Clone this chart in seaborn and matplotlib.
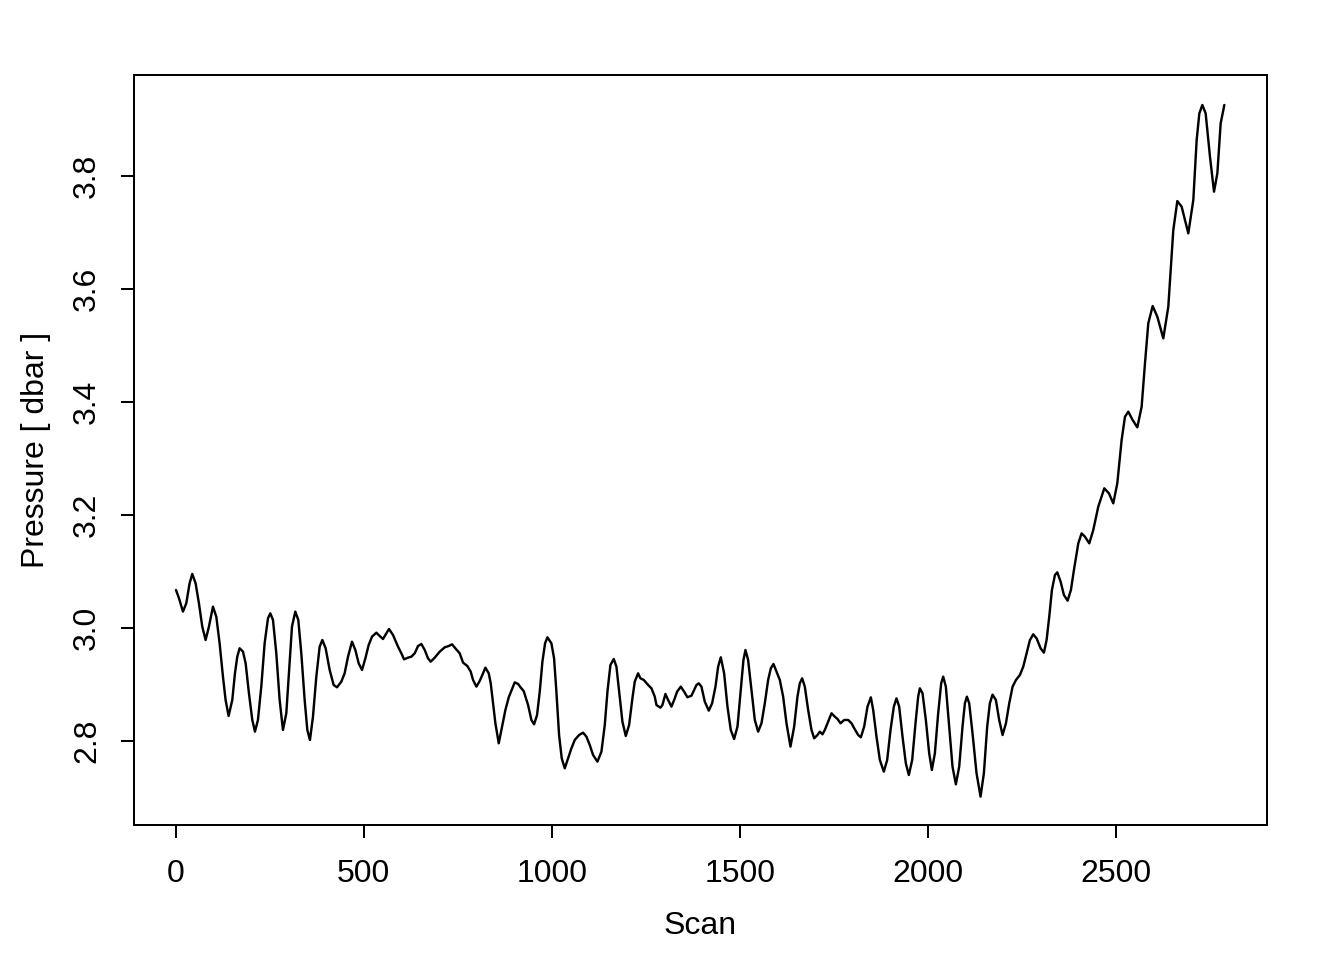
import matplotlib
matplotlib.use("Agg")
import matplotlib.pyplot as plt
import seaborn as sns
import pandas as pd

scan = [1, 9, 19.5, 28.4, 37.2, 44.3, 53.2, 62, 70.9, 79.8, 88.6, 99.3, 108.2, 117, 125.9,
        132.9, 140.9, 150.7, 157.8, 164, 170.2, 179.1, 186.2, 195, 203.9, 211, 218.9,
        227.8, 236.7, 245.6, 251.8, 258.9, 267.7, 276.6, 285.4, 294.3, 301.4, 309.4,
        318.2, 326.2, 334.2, 343.1, 350.2, 357.2, 365.2, 374.1, 383, 390.1, 398.9,
        409.6, 420.2, 429.1, 440.6, 449.4, 458.4, 469, 477.9, 486.7, 495.6, 504.5,
        513.3, 522.2, 533.7, 542.6, 551.4, 560.3, 567.4, 578, 591.3, 600.2, 607.3,
        617.9, 626.8, 635.7, 644.5, 653.4, 662.3, 671.1, 678.2, 688.9, 702.2, 715.5,
        726.1, 735, 743.8, 755.3, 764.2, 775.7, 784.6, 790.8, 799.7, 808.5, 817.4,
        823.6, 832.5, 837.8, 844, 850.2, 859.1, 867.9, 876.8, 885.7, 892.7, 901.6,
        910.5, 919.3, 925.5, 937.1, 945.9, 953, 961, 968.1, 975.2, 982.3, 988.5,
        999.1, 1006.2, 1012.4, 1019.5, 1026.6, 1034.6, 1043.4, 1052.3, 1061.2, 1072.7,
        1083.3, 1092.2, 1101.1, 1109.9, 1121.5, 1132.1, 1141, 1148.1, 1156, 1164.9,
        1172, 1179.1, 1187.9, 1196.8, 1205.7, 1214.5, 1220.7, 1229.6, 1235.8, 1244.7,
        1256.2, 1265.1, 1273.9, 1278.4, 1289, 1294.3, 1302.3, 1309.4, 1318.3, 1327.1,
        1333.3, 1343.1, 1352, 1360.8, 1371.5, 1384.8, 1390.9, 1398, 1406.9, 1417.5,
        1426.4, 1435.3, 1442.4, 1449.5, 1458.3, 1467.2, 1476, 1484.9, 1493.8, 1502.6,
        1509.7, 1515, 1522.1, 1531, 1539.9, 1548.7, 1557.6, 1566.5, 1575.3, 1582.4,
        1589.5, 1597.5, 1606.4, 1615.2, 1624.1, 1634.7, 1644.5, 1653.3, 1659.5, 1665.8,
        1672.8, 1681.7, 1690.6, 1697.7, 1706.5, 1712.7, 1719.8, 1726, 1734.9, 1743.8,
        1752.6, 1759.7, 1767.7, 1777.5, 1788.1, 1797, 1805.8, 1814.7, 1821.8, 1830.6,
        1839.5, 1848.4, 1854.6, 1863.4, 1872.3, 1882.9, 1891.8, 1900.7, 1909.5, 1916.6,
        1923.7, 1932.6, 1941.4, 1949.4, 1958.3, 1967.1, 1974.2, 1978.7, 1985.8, 1994.6,
        2003.5, 2010.6, 2018.6, 2027.4, 2035.4, 2040.7, 2047.8, 2056.7, 2065.5, 2074.4,
        2083.3, 2092.1, 2098.4, 2103.7, 2109.9, 2118.7, 2129.4, 2140, 2148.9, 2157.7,
        2164.8, 2171.9, 2180.8, 2189.6, 2198.6, 2207.5, 2216.3, 2225.2, 2234.1, 2244.7,
        2253.6, 2262.4, 2271.3, 2280.2, 2289, 2299.7, 2308.5, 2315.6, 2322.7, 2329.8,
        2337.8, 2344, 2352.9, 2361.7, 2371.5, 2380.3, 2388.3, 2399.9, 2408.7, 2417.6,
        2429.1, 2439.7, 2453, 2469, 2481.4, 2492.9, 2503.6, 2515.1, 2524, 2532.8,
        2544.4, 2556.8, 2568.3, 2577.2, 2586, 2597.6, 2610, 2625.9, 2639.2, 2652.5,
        2663.2, 2674.7, 2692.4, 2705.7, 2714.6, 2721.7, 2729.7, 2738.5, 2750, 2760.7,
        2769.6, 2778.4, 2788.2]
pressure = [3.0673, 3.0526, 3.029, 3.0437, 3.0791, 3.0956, 3.0791, 3.0437, 3.0024, 2.9788,
            3.0024, 3.0378, 3.0201, 2.9729, 2.9139, 2.8726, 2.8443, 2.8726, 2.9198, 2.9493,
            2.9641, 2.9582, 2.9375, 2.8844, 2.8372, 2.8166, 2.8372, 2.8962, 2.9729, 3.0172,
            3.026, 3.0142, 2.9552, 2.8726, 2.8195, 2.849, 2.9198, 3.0024, 3.029, 3.0142,
            2.9552, 2.8726, 2.8195, 2.8018, 2.8431, 2.9139, 2.967, 2.9788, 2.9641, 2.9257,
            2.8991, 2.895, 2.905, 2.9198, 2.9493, 2.9758, 2.961, 2.9375, 2.9257, 2.9463,
            2.9699, 2.9847, 2.9917, 2.9858, 2.9805, 2.9906, 2.9982, 2.9876, 2.967, 2.9552,
            2.9445, 2.9475, 2.9493, 2.9552, 2.9681, 2.9717, 2.9611, 2.9463, 2.9404, 2.9475,
            2.9581, 2.9658, 2.9681, 2.9711, 2.964, 2.9552, 2.9387, 2.9327, 2.9227, 2.908,
            2.8962, 2.9062, 2.9198, 2.9298, 2.9198, 2.9021, 2.8667, 2.8313, 2.7959, 2.8254,
            2.8549, 2.8773, 2.8891, 2.9038, 2.9009, 2.8932, 2.8883, 2.8637, 2.8372, 2.8295,
            2.846, 2.8873, 2.9404, 2.9729, 2.9835, 2.9729, 2.9463, 2.8873, 2.8106, 2.7693,
            2.7516, 2.7693, 2.787, 2.8018, 2.8106, 2.8147, 2.8077, 2.7929, 2.7752, 2.7634,
            2.7811, 2.8283, 2.8873, 2.9345, 2.9451, 2.9316, 2.8873, 2.8342, 2.8088, 2.8283,
            2.8755, 2.905, 2.9198, 2.9109, 2.908, 2.8991, 2.8932, 2.8785, 2.8637, 2.859,
            2.8637, 2.8832, 2.8726, 2.8608, 2.8755, 2.8873, 2.8962, 2.8873, 2.8773, 2.8802,
            2.8991, 2.9021, 2.8962, 2.8696, 2.8537, 2.8667, 2.8962, 2.9316, 2.9481, 2.9198,
            2.8608, 2.8195, 2.8035, 2.8254, 2.8903, 2.9434, 2.9611, 2.9434, 2.8903, 2.8372,
            2.8165, 2.8313, 2.8667, 2.908, 2.9286, 2.9363, 2.9227, 2.908, 2.8785, 2.8313,
            2.79, 2.8254, 2.8785, 2.9021, 2.9109, 2.8962, 2.8549, 2.8195, 2.8047, 2.8106,
            2.8165, 2.8118, 2.8195, 2.8342, 2.849, 2.8431, 2.8389, 2.8313, 2.8372, 2.8372,
            2.8313, 2.8206, 2.8106, 2.8065, 2.8254, 2.8608, 2.8773, 2.8549, 2.8077, 2.7664,
            2.7457, 2.7664, 2.8195, 2.8608, 2.8755, 2.8608, 2.8077, 2.7605, 2.7398, 2.7664,
            2.8313, 2.8785, 2.8932, 2.8844, 2.8372, 2.7782, 2.7487, 2.7782, 2.849, 2.9021,
            2.9139, 2.8962, 2.8254, 2.7546, 2.7233, 2.7546, 2.8254, 2.8667, 2.8785, 2.8667,
            2.8136, 2.7428, 2.7015, 2.7428, 2.8254, 2.8667, 2.882, 2.8726, 2.8372, 2.8106,
            2.8312, 2.8666, 2.8961, 2.9079, 2.9168, 2.9316, 2.9551, 2.9787, 2.9888, 2.9817,
            2.964, 2.9563, 2.9787, 3.0201, 3.0673, 3.0938, 3.0985, 3.082, 3.0584, 3.0484,
            3.0673, 3.1026, 3.1498, 3.1675, 3.1616, 3.1498, 3.1734, 3.2147, 3.2472, 3.2383,
            3.2206, 3.256, 3.3327, 3.374, 3.3829, 3.3681, 3.3551, 3.3917, 3.4684, 3.5392,
            3.5699, 3.551, 3.5127, 3.5687, 3.7044, 3.7557, 3.7457, 3.6985, 3.7575, 3.8637,
            3.9109, 3.9257, 3.9109, 3.8342, 3.7723, 3.8047, 3.8932, 3.9257]
x_ticks = [0, 500, 1000, 1500, 2000, 2500]
y_ticks = [2.8, 3.0, 3.2, 3.4, 3.6, 3.8]

sns.set_style("ticks")
plt.rcParams['font.family'] = ['Liberation Sans', 'DejaVu Sans']
plt.rcParams['text.color'] = 'black'
plt.rcParams['axes.labelcolor'] = 'black'

df = pd.DataFrame({"Scan": scan, "Pressure": pressure})

fig = plt.figure(figsize=(7, 5), dpi=192)
ax = fig.add_axes([134/1344, 1 - 825/960, (1267-134)/1344, (825-75)/960])
sns.lineplot(data=df, x="Scan", y="Pressure", ax=ax, color="black", linewidth=0.9,
             estimator=None, sort=False)
for ln in ax.get_lines():
    ln.set_solid_joinstyle("round")
    ln.set_solid_capstyle("round")

ax.set_xlim(-110.6, 2901.6)
ax.set_ylim(2.6513, 3.9788)
ax.set_xticks(x_ticks)
ax.set_xticklabels([str(t) for t in x_ticks])
ax.set_yticks(y_ticks)
ax.set_yticklabels([f"{t:.1f}" for t in y_ticks], rotation=90, va="center")
for s in ax.spines.values():
    s.set_visible(True)
    s.set_linewidth(0.75)
    s.set_color("black")
ax.tick_params(axis="both", direction="out", length=4.9, width=0.75, color="black",
               labelsize=12, labelcolor="black")
ax.tick_params(axis="x", pad=8)
ax.tick_params(axis="y", pad=7)
ax.set_xlabel("Scan", fontsize=12, labelpad=8, color="black")
ax.set_ylabel("Pressure [ dbar ]", fontsize=12, labelpad=8, color="black")
ax.grid(False)

fig.savefig("out.png", dpi=192)
